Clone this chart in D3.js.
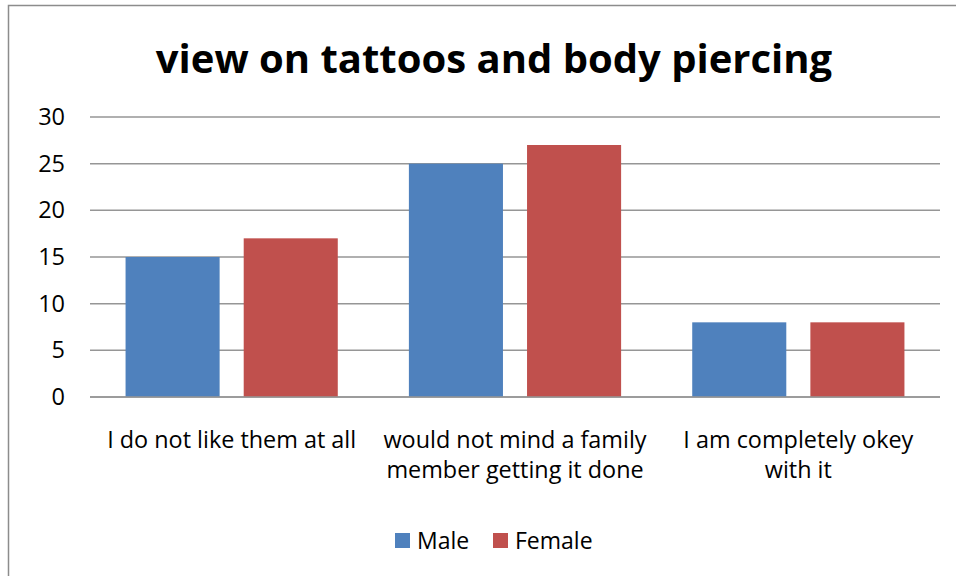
<!DOCTYPE html>
<html><head><meta charset="utf-8">
<script src="https://cdn.jsdelivr.net/npm/d3@7"></script>
<style>body{margin:0;background:#fff}svg{display:block}</style>
</head><body>
<svg id="c" width="956" height="576"></svg>
<script>
const categories = [["I do not like them at all"], ["would not mind a family", "member getting it done"], ["I am completely okey", "with it"]];
const seriesNames = ["Male", "Female"];
const male = [15, 25, 8];
const female = [17, 27, 8];
const yTicks = [0, 5, 10, 15, 20, 25, 30];
const colors = ["#4F81BD", "#C0504D"];

(function () {
const svg = d3.select("#c");
const font = "'Open Sans', sans-serif";
const pLeft = 90, pRight = 940, pTop = 117, pBottom = 397;

svg.append("rect").attr("x", 8.5).attr("y", 5.5).attr("width", 960).attr("height", 600)
  .attr("fill", "#fff").attr("stroke", "#8c8c8c").attr("stroke-width", 1.5);

svg.append("text").attr("x", 494).attr("y", 73).attr("text-anchor", "middle")
  .attr("font-family", font).attr("font-weight", "bold").attr("font-size", 40)
  .attr("fill", "#000").text("view on tattoos and body piercing");

const x0 = d3.scaleBand().domain(d3.range(categories.length)).range([pLeft, pRight]);
const y = d3.scaleLinear().domain([0, 30]).range([pBottom, pTop]);

const g = svg.append("g");
g.selectAll("line.grid").data(yTicks).join("line")
  .attr("x1", pLeft).attr("x2", pRight)
  .attr("y1", d => y(d)).attr("y2", d => y(d))
  .attr("stroke", "#969696").attr("stroke-width", 1.5);

const yAxis = d3.axisLeft(y).tickValues(yTicks).tickSize(0).tickPadding(0);
const ya = svg.append("g").attr("transform", `translate(65,0)`).call(yAxis);
ya.select(".domain").remove();
ya.selectAll("text").attr("font-family", font).attr("font-size", 23.5).attr("fill", "#000");

const barW = x0.bandwidth() * 0.332;
const gap = x0.bandwidth() * 0.085;
const data = [male, female];
data.forEach((vals, s) => {
  g.selectAll("rect.s" + s).data(vals).join("rect").attr("class", "s" + s)
    .attr("x", (d, i) => x0(i) + x0.bandwidth() / 2 + (s === 0 ? -gap / 2 - barW : gap / 2))
    .attr("width", barW)
    .attr("y", d => y(d)).attr("height", d => y(0) - y(d))
    .attr("fill", colors[s]);
});

g.append("line").attr("x1", pLeft).attr("x2", pRight).attr("y1", y(0)).attr("y2", y(0))
  .attr("stroke", "#969696").attr("stroke-width", 1.5);

categories.forEach((lines, i) => {
  const t = svg.append("text").attr("text-anchor", "middle")
    .attr("font-family", font).attr("font-size", 23.4).attr("fill", "#000");
  lines.forEach((ln, k) => {
    t.append("tspan").attr("x", x0(i) + x0.bandwidth() / 2).attr("y", 448 + k * 30).text(ln);
  });
});

const legX = [395, 493];
seriesNames.forEach((n, s) => {
  svg.append("rect").attr("x", legX[s]).attr("y", 533).attr("width", 15).attr("height", 15).attr("fill", colors[s]);
  svg.append("text").attr("x", legX[s] + 22).attr("y", 549).attr("font-family", font).attr("font-size", 23).attr("fill", "#000").text(n);
});
})();
</script>
</body></html>
